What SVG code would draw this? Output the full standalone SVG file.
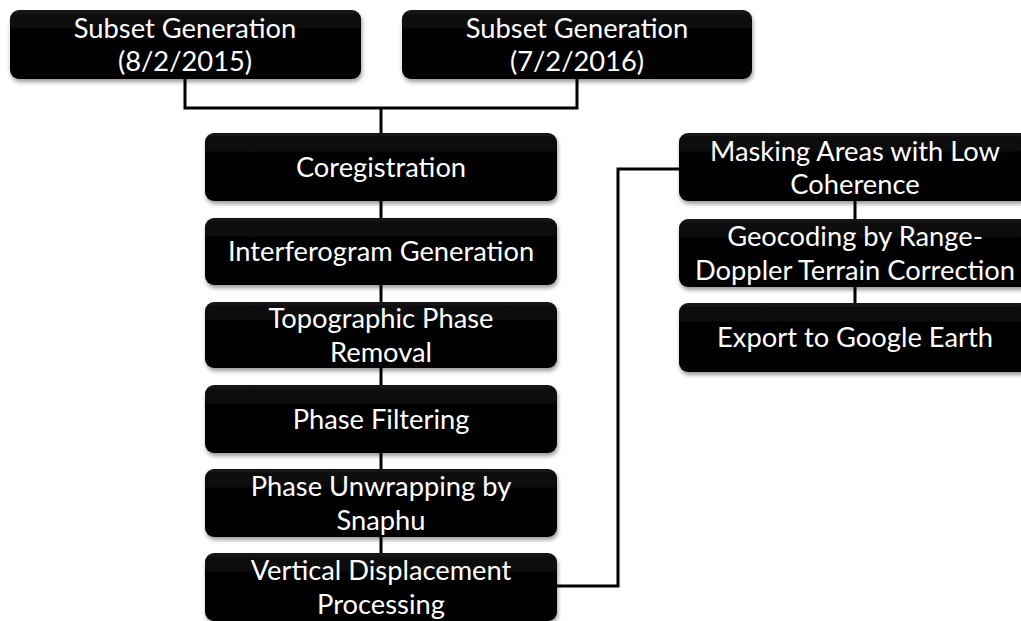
<svg xmlns="http://www.w3.org/2000/svg" width="1021" height="621" viewBox="0 0 1021 621">
<defs>
<filter id="sh" x="-5%" y="-10%" width="112%" height="130%">
<feGaussianBlur in="SourceAlpha" stdDeviation="2"/>
<feOffset dx="1" dy="3" result="b"/>
<feComponentTransfer><feFuncA type="linear" slope="0.4"/></feComponentTransfer>
<feMerge><feMergeNode/><feMergeNode in="SourceGraphic"/></feMerge>
</filter>
<linearGradient id="g" x1="0" y1="0" x2="0" y2="1">
<stop offset="0" stop-color="#141414"/>
<stop offset="0.4" stop-color="#000"/>
<stop offset="1" stop-color="#000"/>
</linearGradient>
<style>
.box{fill:url(#g);filter:url(#sh);}
.t{fill:#fff;font-family:Lato,"Open Sans",sans-serif;font-size:27.3px;text-anchor:middle;}
.c{fill:none;stroke:#000;stroke-width:3;}
</style>
</defs>
<rect width="1021" height="621" fill="#fff"/>
<g id="connectors">
<path class="c" d="M185 79 V108 H577 V79"/>
<path class="c" d="M381 108 V133"/>
<path class="c" d="M381 201 V218"/>
<path class="c" d="M381 285 V302"/>
<path class="c" d="M381 368 V385"/>
<path class="c" d="M381 453 V469"/>
<path class="c" d="M381 537 V553"/>
<path class="c" d="M557 586 H618 V169 H679"/>
<path class="c" d="M855 201 V219"/>
<path class="c" d="M855 287 V303"/>
</g>
<g id="n1"><rect class="box" x="10" y="10" width="351" height="69" rx="9"/>
<text class="t" x="185" y="38">Subset Generation</text><text class="t" x="185" y="71">(8/2/2015)</text></g>
<g id="n2"><rect class="box" x="402" y="10" width="350" height="69" rx="9"/>
<text class="t" x="577" y="38">Subset Generation</text><text class="t" x="577" y="71">(7/2/2016)</text></g>
<g id="n3"><rect class="box" x="205" y="133" width="352" height="68" rx="9"/>
<text class="t" x="381" y="177">Coregistration</text></g>
<g id="n4"><rect class="box" x="205" y="218" width="352" height="67" rx="9"/>
<text class="t" x="381" y="261">Interferogram Generation</text></g>
<g id="n5"><rect class="box" x="205" y="302" width="352" height="66" rx="9"/>
<text class="t" x="381" y="328">Topographic Phase</text><text class="t" x="381" y="362">Removal</text></g>
<g id="n6"><rect class="box" x="205" y="385" width="352" height="68" rx="9"/>
<text class="t" x="381" y="429">Phase Filtering</text></g>
<g id="n7"><rect class="box" x="205" y="469" width="352" height="68" rx="9"/>
<text class="t" x="381" y="496">Phase Unwrapping by</text><text class="t" x="381" y="530">Snaphu</text></g>
<g id="n8"><rect class="box" x="205" y="553" width="352" height="68" rx="9"/>
<text class="t" x="381" y="580">Vertical Displacement</text><text class="t" x="381" y="614">Processing</text></g>
<g id="n9"><rect class="box" x="679" y="133" width="352" height="68" rx="9"/>
<text class="t" x="855" y="161">Masking Areas with Low</text><text class="t" x="855" y="194">Coherence</text></g>
<g id="n10"><rect class="box" x="679" y="219" width="352" height="68" rx="9"/>
<text class="t" x="855" y="246">Geocoding by Range-</text><text class="t" x="855" y="280">Doppler Terrain Correction</text></g>
<g id="n11"><rect class="box" x="679" y="303" width="352" height="69" rx="9"/>
<text class="t" x="855" y="347">Export to Google Earth</text></g>
</svg>
